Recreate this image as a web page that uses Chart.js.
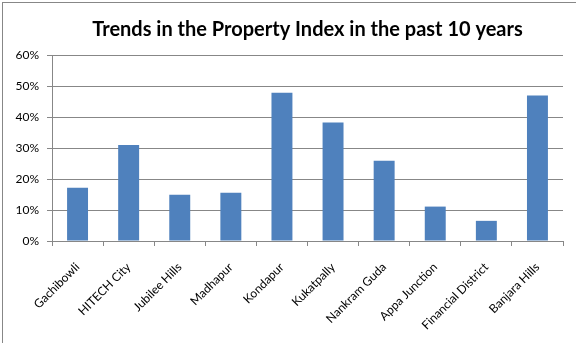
<!DOCTYPE html>
<html>
<head>
<meta charset="utf-8">
<script src="https://cdn.jsdelivr.net/npm/chart.js@4/dist/chart.umd.min.js"></script>
<style>
  html, body { margin: 0; padding: 0; background: #fff; }
  #wrap { position: relative; width: 576px; height: 343px; }
  #frame { position: absolute; left: 2px; top: 2px; right: 0; bottom: 0;
           border-left: 1px solid #878787; border-top: 1px solid #878787; pointer-events: none; }
  canvas { position: absolute; left: 0; top: 0; }
</style>
</head>
<body>
<div id="wrap">
  <canvas id="chart" width="576" height="343"></canvas>
  <div id="frame"></div>
</div>
<script>
// Localities and their property index growth (%) over ten years
const localities = ['Gachibowli', 'HITECH City', 'Jubilee Hills', 'Madhapur', 'Kondapur',
                    'Kukatpally', 'Nankram Guda', 'Appa Junction', 'Financial District', 'Banjara Hills'];
const growthPct = [17.2, 31.0, 14.9, 15.6, 47.8, 38.2, 25.9, 11.1, 6.5, 46.9];
const yTicks = [0, 10, 20, 30, 40, 50, 60];

const gridGray = '#878787';
const tickFont = { family: 'Lato, "Open Sans", sans-serif', size: 12 };

new Chart(document.getElementById('chart'), {
  type: 'bar',
  data: {
    labels: localities,
    datasets: [{
      data: growthPct,
      backgroundColor: '#4F81BD',
      borderWidth: 0,
      barPercentage: 0.41,
      categoryPercentage: 1.0
    }]
  },
  options: {
    responsive: false,
    animation: false,
    events: [],
    layout: { padding: { left: 0, right: 13, top: 0, bottom: 0 } },
    plugins: {
      legend: { display: false },
      tooltip: { enabled: false },
      title: {
        display: true,
        fullSize: false,   // centre the title over the plot area
        text: 'Trends in the Property Index in the past 10 years',
        color: '#000',
        font: { family: 'Lato, "Open Sans", sans-serif', size: 20, weight: 'bold' },
        padding: { top: 18, bottom: 13 }
      }
    },
    scales: {
      x: {
        offset: true,
        grid: {
          offset: true,
          drawOnChartArea: false,
          drawTicks: true,
          tickLength: 5,
          color: gridGray,
          lineWidth: 1
        },
        border: { display: true, color: gridGray, width: 1 },
        ticks: {
          color: '#000',
          font: tickFont,
          minRotation: 45,
          maxRotation: 45,
          autoSkip: false,
          padding: 14
        },
        afterFit: (scale) => { scale.height = 102; }
      },
      y: {
        min: 0,
        max: 60,
        afterBuildTicks: (scale) => { scale.ticks = yTicks.map(v => ({ value: v })); },
        grid: {
          color: gridGray,
          lineWidth: 1,
          drawTicks: true,
          tickLength: 5
        },
        border: { display: true, color: gridGray, width: 1 },
        ticks: {
          color: '#000',
          font: tickFont,
          padding: 8,
          callback: (v) => v + '%'
        },
        afterFit: (scale) => { scale.width = 52; }
      }
    }
  }
});
</script>
</body>
</html>
